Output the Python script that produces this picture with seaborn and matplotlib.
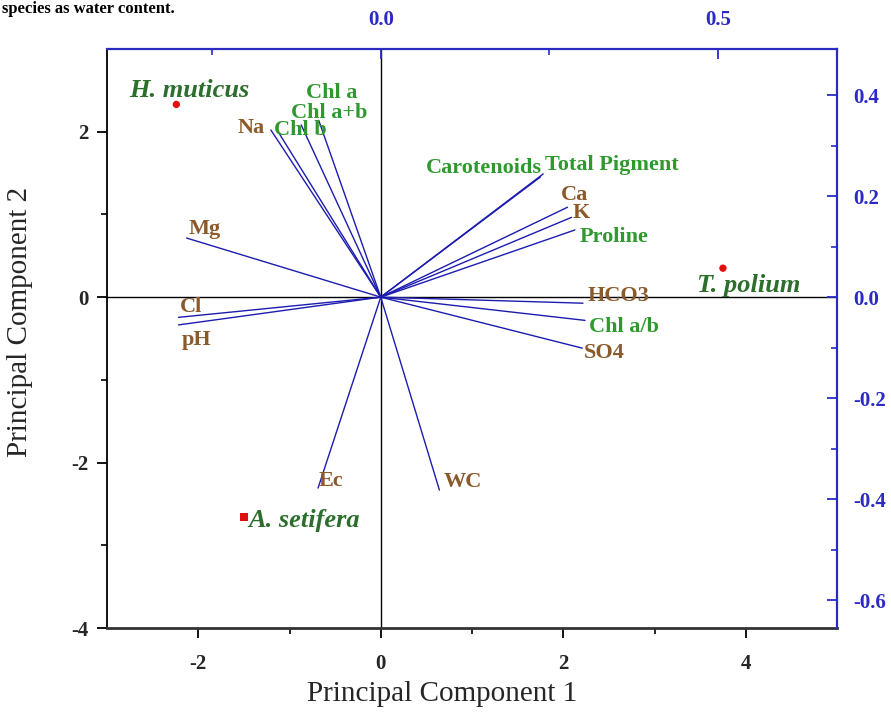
import matplotlib
matplotlib.use("Agg")
import matplotlib.pyplot as plt
from matplotlib.ticker import FixedLocator, FuncFormatter
import numpy as np
import pandas as pd
import seaborn as sns

# ---- PCA scores (species) ----
species = ["H. muticus", "T. polium", "A. setifera"]
pc1_scores = [-2.24, 3.75, -1.50]
pc2_scores = [2.33, 0.35, -2.66]
species_marker = ["circle", "circle", "square"]

# ---- PCA loadings (variables) ----
variables = ["Na", "Chl b", "Chl a+b", "Chl a", "Carotenoids", "Total Pigment",
             "Ca", "K", "Proline", "HCO3", "Chl a/b", "SO4",
             "Mg", "Cl", "pH", "Ec", "WC"]
load_pc1 = [-0.163, -0.152, -0.118, -0.092, 0.237, 0.241,
            0.277, 0.283, 0.288, 0.300, 0.303, 0.299,
            -0.288, -0.300, -0.300, -0.093, 0.087]
load_pc2 = [0.331, 0.327, 0.341, 0.350, 0.238, 0.244,
            0.178, 0.158, 0.133, -0.012, -0.046, -0.101,
            0.117, -0.040, -0.055, -0.378, -0.382]
var_group = ["ion", "pigment", "pigment", "pigment", "pigment", "pigment",
             "ion", "ion", "pigment", "ion", "pigment", "ion",
             "ion", "ion", "ion", "ion", "ion"]

# label placement: (dx, dy) in pixels from vector tip, horizontal alignment
label_offsets = {
    "Na": (-6, 2, "right"), "Chl b": (-4, 2, "left"), "Chl a+b": (-10, 12, "left"),
    "Chl a": (-13, 27, "left"), "Carotenoids": (1, 9, "right"),
    "Total Pigment": (2, 9, "left"), "Ca": (-7, 12, "left"), "K": (1, 4, "left"),
    "Proline": (5, -7, "left"), "HCO3": (5, 7, "left"), "Chl a/b": (4, -7, "left"),
    "SO4": (1, -5, "left"), "Mg": (2, 9, "left"), "Cl": (1, 10, "left"),
    "pH": (3, -15, "left"), "Ec": (1, 7, "left"), "WC": (4, 8, "left"),
}
species_offsets = {
    "H. muticus": (-47, 14, "left"), "T. polium": (-26, -17, "left"),
    "A. setifera": (4, -3, "left"),
}

BLUE_LINE = "#1c1cb0"
BLUE_AXIS = "#2b2bc4"
BROWN = "#8b5a2b"
GREEN = "#2e9a2e"
DKGREEN = "#2c6e2c"
RED = "#e01010"

sns.set_theme(style="white")
plt.rcParams["font.family"] = ["Liberation Serif", "DejaVu Serif"]
plt.rcParams["axes.unicode_minus"] = False

fig = plt.figure(figsize=(8.91, 7.2), dpi=100)
pos = [107 / 891, 92 / 720, 730 / 891, 579 / 720]
ax = fig.add_axes(pos)
ax2 = fig.add_axes(pos)
ax2.patch.set_visible(False)

# score axes (bottom/left)
ax.set_xlim(-3, 5)
ax.set_ylim(-4, 3)
ax.axhline(0, color="black", lw=1.0, zorder=1)
ax.axvline(0, color="black", lw=1.0, zorder=1)

scores = pd.DataFrame({"PC1": pc1_scores, "PC2": pc2_scores,
                       "species": species, "shape": species_marker})
sns.scatterplot(data=scores, x="PC1", y="PC2", style="shape",
                markers={"circle": "o", "square": "s"}, color=RED,
                s=28, edgecolor="none", legend=False, ax=ax, zorder=5)

px_pt = 0.72
for name, x, y in zip(species, pc1_scores, pc2_scores):
    dx, dy, ha = species_offsets[name]
    ax.annotate(name, (x, y), xytext=(dx * px_pt, dy * px_pt),
                textcoords="offset points", ha=ha, va="center",
                fontsize=19, fontweight="bold", fontstyle="italic",
                color=DKGREEN, zorder=6)

ax.xaxis.set_major_locator(FixedLocator([-2, 0, 2, 4]))
ax.xaxis.set_minor_locator(FixedLocator([-1, 1, 3]))
ax.yaxis.set_major_locator(FixedLocator([-4, -2, 0, 2]))
ax.yaxis.set_minor_locator(FixedLocator([-3, -1, 1]))
ax.tick_params(axis="both", which="major", direction="out", length=7, width=1.3,
               color="black", labelsize=15)
ax.tick_params(axis="x", which="major", pad=12)
ax.tick_params(axis="y", which="major", pad=6)
ax.tick_params(axis="both", which="minor", direction="out", length=4, width=1.2,
               color="black")
ax.tick_params(bottom=True, left=True, which="both")
for lab in ax.get_xticklabels() + ax.get_yticklabels():
    lab.set_fontweight("bold")
ax.set_xlabel("Principal Component 1", fontsize=21)
ax.set_ylabel("Principal Component 2", fontsize=21)
ax.xaxis.set_label_coords(0.459, -0.092)
ax.yaxis.set_label_coords(-0.101, 0.528)
ax.spines["left"].set_color("black")
ax.spines["left"].set_linewidth(1.3)
ax.spines["bottom"].set_color("#333333")
ax.spines["bottom"].set_linewidth(2.0)
ax.spines["top"].set_visible(False)
ax.spines["right"].set_visible(False)

# loading axes (top/right)
sx, sy = 7.388, 6.106
ax2.set_xlim(-3 / sx, 5 / sx)
ax2.set_ylim(-4 / sy, 3 / sy)
ax2.xaxis.tick_top()
ax2.yaxis.tick_right()
ax2.xaxis.set_major_locator(FixedLocator([0.0, 0.5]))
ax2.xaxis.set_minor_locator(FixedLocator([-0.25, 0.25]))
ax2.yaxis.set_major_locator(FixedLocator([-0.6, -0.4, -0.2, 0.0, 0.2, 0.4]))
ax2.yaxis.set_minor_locator(FixedLocator([-0.5, -0.3, -0.1, 0.1, 0.3]))
fmt = FuncFormatter(lambda v, p: f"{v:.1f}".replace("-0.0", "0.0"))
ax2.xaxis.set_major_formatter(fmt)
ax2.yaxis.set_major_formatter(fmt)
ax2.tick_params(axis="both", which="major", direction="in", length=7, width=1.3,
                color=BLUE_AXIS, labelcolor=BLUE_AXIS, labelsize=15,
                top=True, right=True, bottom=False, left=False,
                labeltop=True, labelright=True, labelbottom=False, labelleft=False)
ax2.tick_params(axis="x", which="major", pad=14)
ax2.tick_params(axis="y", which="major", pad=12)
ax2.tick_params(axis="both", which="minor", direction="in", length=4, width=1.2,
                color=BLUE_AXIS, top=True, right=True, bottom=False, left=False)
for lab in ax2.get_xticklabels() + ax2.get_yticklabels():
    lab.set_fontweight("bold")
ax2.spines["top"].set_visible(True)
ax2.spines["right"].set_visible(True)
ax2.spines["top"].set_color(BLUE_AXIS)
ax2.spines["right"].set_color(BLUE_AXIS)
ax2.spines["top"].set_linewidth(1.6)
ax2.spines["right"].set_linewidth(1.6)
for s in ("left", "bottom"):
    ax2.spines[s].set_visible(False)

# loading vectors from the origin
vec_rows = []
for name, lx, ly in zip(variables, load_pc1, load_pc2):
    vec_rows.append({"var": name, "step": 0, "L1": 0.0, "L2": 0.0})
    vec_rows.append({"var": name, "step": 1, "L1": lx, "L2": ly})
vectors = pd.DataFrame(vec_rows)
sns.lineplot(data=vectors, x="L1", y="L2", units="var", estimator=None,
             sort=False, color=BLUE_LINE, lw=1.0, legend=False, ax=ax2, zorder=3)
ax2.set_xlabel("")
ax2.set_ylabel("")

for name, lx, ly, grp in zip(variables, load_pc1, load_pc2, var_group):
    dx, dy, ha = label_offsets[name]
    ax2.annotate(name, (lx, ly), xytext=(dx * px_pt, dy * px_pt),
                 textcoords="offset points", ha=ha, va="center",
                 fontsize=16, fontweight="bold",
                 color=BROWN if grp == "ion" else GREEN, zorder=6)

# caption line above the plot
fig.text(0.002, 0.999, "species as water content.", ha="left", va="top",
         fontsize=12, fontweight="bold", color="black")

fig.savefig("out.png", dpi=100)
